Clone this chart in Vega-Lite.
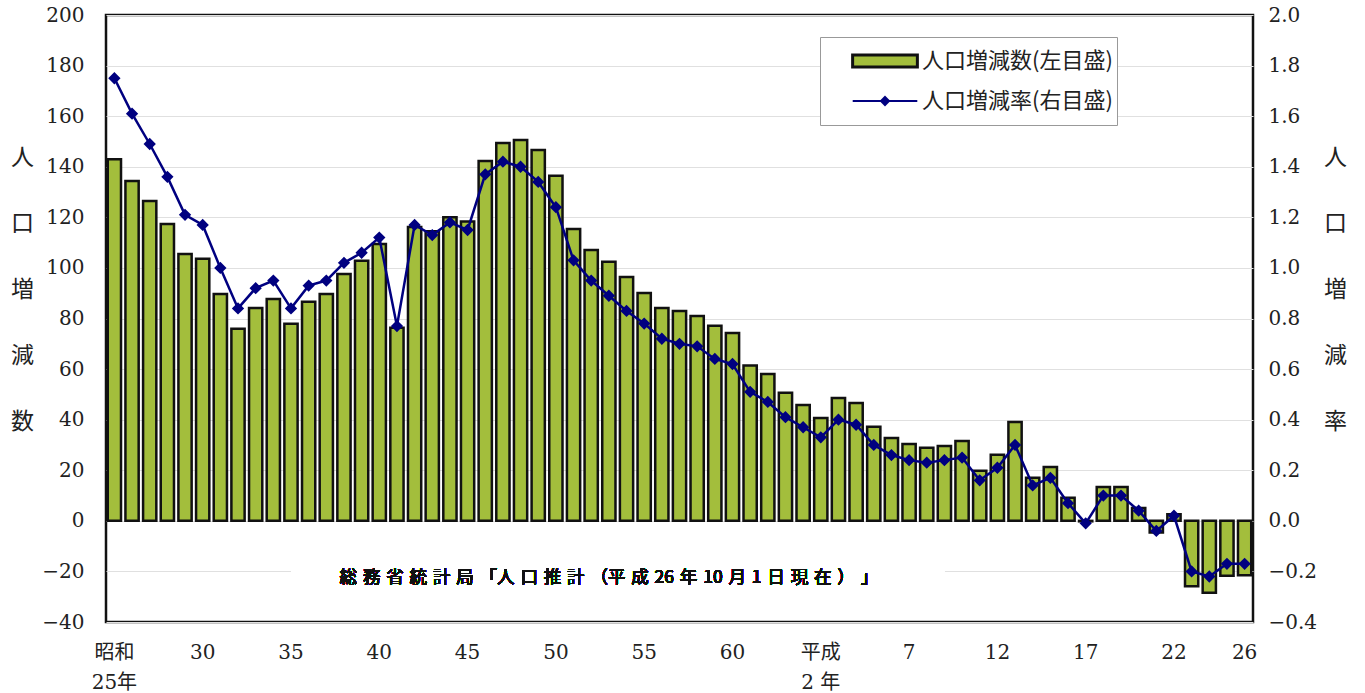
{
  "$schema": "https://vega.github.io/schema/vega-lite/v6.json",
  "width": 1147,
  "height": 607,
  "autosize": {"type": "none"},
  "padding": {"left": 106, "top": 15, "right": 112, "bottom": 71},
  "background": "white",
  "config": {
    "view": {"stroke": "#111", "strokeWidth": 2.5},
    "axis": {
      "labelFont": "DejaVu Serif, Noto Sans CJK JP",
      "labelFontSize": 20,
      "labelColor": "#222",
      "titleFont": "Noto Sans CJK JP",
      "titleFontSize": 23,
      "titleFontWeight": "normal",
      "titleColor": "#222",
      "domain": false,
      "ticks": false
    },
    "legend": {
      "orient": "none",
      "legendX": 714,
      "padding": 4,
      "symbolOffset": 41,
      "labelOffset": 17,
      "labelLimit": 500,
      "rowPadding": 0,
      "labelFont": "Noto Sans CJK JP",
      "labelFontSize": 22,
      "labelColor": "#222"
    }
  },
  "data": {
    "values": [
      {"yr": 1950, "n": 143.0, "r": 1.75},
      {"yr": 1951, "n": 134.4, "r": 1.61},
      {"yr": 1952, "n": 126.5, "r": 1.49},
      {"yr": 1953, "n": 117.4, "r": 1.36},
      {"yr": 1954, "n": 105.5, "r": 1.21},
      {"yr": 1955, "n": 103.6, "r": 1.17},
      {"yr": 1956, "n": 89.7, "r": 1.00},
      {"yr": 1957, "n": 75.9, "r": 0.84},
      {"yr": 1958, "n": 84.2, "r": 0.92},
      {"yr": 1959, "n": 87.7, "r": 0.95},
      {"yr": 1960, "n": 77.9, "r": 0.84},
      {"yr": 1961, "n": 86.6, "r": 0.93},
      {"yr": 1962, "n": 89.7, "r": 0.95},
      {"yr": 1963, "n": 97.6, "r": 1.02},
      {"yr": 1964, "n": 102.8, "r": 1.06},
      {"yr": 1965, "n": 109.5, "r": 1.12},
      {"yr": 1966, "n": 76.3, "r": 0.77},
      {"yr": 1967, "n": 116.2, "r": 1.17},
      {"yr": 1968, "n": 114.5, "r": 1.13},
      {"yr": 1969, "n": 120.0, "r": 1.18},
      {"yr": 1970, "n": 118.4, "r": 1.15},
      {"yr": 1971, "n": 142.3, "r": 1.37},
      {"yr": 1972, "n": 149.4, "r": 1.42},
      {"yr": 1973, "n": 150.6, "r": 1.40},
      {"yr": 1974, "n": 146.6, "r": 1.34},
      {"yr": 1975, "n": 136.4, "r": 1.24},
      {"yr": 1976, "n": 115.4, "r": 1.03},
      {"yr": 1977, "n": 107.1, "r": 0.95},
      {"yr": 1978, "n": 102.4, "r": 0.89},
      {"yr": 1979, "n": 96.4, "r": 0.83},
      {"yr": 1980, "n": 90.1, "r": 0.78},
      {"yr": 1981, "n": 84.2, "r": 0.72},
      {"yr": 1982, "n": 83.0, "r": 0.70},
      {"yr": 1983, "n": 81.0, "r": 0.69},
      {"yr": 1984, "n": 77.1, "r": 0.64},
      {"yr": 1985, "n": 74.3, "r": 0.62},
      {"yr": 1986, "n": 61.4, "r": 0.51},
      {"yr": 1987, "n": 58.1, "r": 0.47},
      {"yr": 1988, "n": 50.6, "r": 0.41},
      {"yr": 1989, "n": 45.8, "r": 0.37},
      {"yr": 1990, "n": 40.7, "r": 0.33},
      {"yr": 1991, "n": 48.6, "r": 0.40},
      {"yr": 1992, "n": 46.6, "r": 0.38},
      {"yr": 1993, "n": 37.2, "r": 0.30},
      {"yr": 1994, "n": 32.8, "r": 0.26},
      {"yr": 1995, "n": 30.4, "r": 0.24},
      {"yr": 1996, "n": 28.9, "r": 0.23},
      {"yr": 1997, "n": 29.6, "r": 0.24},
      {"yr": 1998, "n": 31.6, "r": 0.25},
      {"yr": 1999, "n": 19.8, "r": 0.16},
      {"yr": 2000, "n": 26.1, "r": 0.21},
      {"yr": 2001, "n": 39.1, "r": 0.30},
      {"yr": 2002, "n": 17.0, "r": 0.14},
      {"yr": 2003, "n": 21.3, "r": 0.17},
      {"yr": 2004, "n": 9.1, "r": 0.07},
      {"yr": 2005, "n": -0.2, "r": -0.01},
      {"yr": 2006, "n": 13.4, "r": 0.10},
      {"yr": 2007, "n": 13.4, "r": 0.10},
      {"yr": 2008, "n": 5.1, "r": 0.04},
      {"yr": 2009, "n": -4.6, "r": -0.04},
      {"yr": 2010, "n": 2.6, "r": 0.02},
      {"yr": 2011, "n": -25.9, "r": -0.20},
      {"yr": 2012, "n": -28.4, "r": -0.22},
      {"yr": 2013, "n": -21.7, "r": -0.17},
      {"yr": 2014, "n": -21.5, "r": -0.17}
    ]
  },
  "encoding": {
    "x": {
      "field": "yr",
      "type": "ordinal",
      "scale": {"paddingInner": 0.25, "paddingOuter": 0.1},
      "axis": {
        "title": null,
        "values": [1950, 1955, 1960, 1965, 1970, 1975, 1980, 1985, 1990, 1995, 2000, 2005, 2010, 2014],
        "labelExpr": "datum.value == 1950 ? ['昭和','25年'] : datum.value == 1990 ? ['平成','2 年'] : datum.value < 1990 ? '' + (datum.value - 1925) : '' + (datum.value - 1988)",
        "labelAngle": 0,
        "labelPadding": 20,
        "labelLineHeight": 30,
        "grid": false
      }
    }
  },
  "layer": [
    {
      "encoding": {
        "y": {
          "type": "quantitative",
          "scale": {"domain": [-40, 200], "nice": false, "zero": false},
          "axis": {
            "orient": "left",
            "values": [-40, -20, 0, 20, 40, 60, 80, 100, 120, 140, 160, 180, 200],
            "grid": true,
            "gridColor": "#e0e0e0",
            "gridWidth": 1.2,
            "labelPadding": 22,
            "title": ["人", "口", "増", "減", "数"],
            "titleAngle": 0,
            "titleAlign": "center",
            "titleBaseline": "middle",
            "titleX": -84,
            "titleY": 142,
            "titleLineHeight": 66
          }
        }
      },
      "layer": [
        {
          "mark": {"type": "rect", "fill": "white"},
          "encoding": {
            "x": {"datum": 1960, "type": "ordinal", "bandPosition": 0.5},
            "x2": {"datum": 1997, "bandPosition": 0.5},
            "y": {"datum": -13},
            "y2": {"datum": -32}
          }
        },
        {
          "mark": {"type": "bar", "stroke": "#111", "strokeWidth": 2.5},
          "encoding": {
            "y": {"field": "n"},
            "fill": {
              "datum": "人口増減数(左目盛)",
              "scale": {"range": ["#a3be3c"]},
              "legend": {
                "legendY": 22,
                "title": "\u3000",
                "titleOrient": "bottom",
                "titleFontSize": 20,
                "titlePadding": 28,
                "titleFont": "Noto Sans CJK JP",
                "labelExpr": "datum.label + '\u3000\u3000\u2002'",
                "symbolType": "M-1.75,-0.32H1.75V0.32H-1.75Z",
                "symbolSize": 1369,
                "symbolStrokeColor": "#111",
                "symbolStrokeWidth": 3,
                "symbolOpacity": 1,
                "fillColor": "white",
                "strokeColor": "#999"
              }
            }
          }
        },
        {
          "mark": {"type": "text", "font": "Noto Sans CJK JP", "fontSize": 17.5, "fontWeight": "normal", "color": "#111", "baseline": "middle", "align": "center"},
          "encoding": {
            "x": {"datum": 1978, "type": "ordinal"},
            "y": {"datum": -22.5},
            "text": {"value": "総\u2004務\u2004省\u2004統\u2004計\u2004局\u2004「人\u2004口\u2004推\u2004計\u2004（平\u2004成\u200426\u2004年\u200410\u2004月\u20041\u2004日\u2004現\u2004在\u2004）\u2004」"}
          }
        }
      ]
    },
    {
      "mark": {"type": "line", "strokeWidth": 2.5, "point": {"filled": true, "shape": "diamond", "size": 90, "fill": "#000080"}},
      "encoding": {
        "y": {
          "field": "r",
          "type": "quantitative",
          "scale": {"domain": [-0.4, 2.0], "nice": false, "zero": false},
          "axis": {
            "orient": "right",
            "values": [-0.4, -0.2, 0, 0.2, 0.4, 0.6, 0.8, 1.0, 1.2, 1.4, 1.6, 1.8, 2.0],
            "format": ".1f",
            "grid": false,
            "labelPadding": 15,
            "title": ["人", "口", "増", "減", "率"],
            "titleAngle": 0,
            "titleAlign": "center",
            "titleBaseline": "middle",
            "titleX": 82,
            "titleY": 142,
            "titleLineHeight": 66
          }
        },
        "stroke": {
          "datum": "人口増減率(右目盛)",
          "scale": {"range": ["#000080"]},
          "legend": {
            "legendY": 62,
            "title": null,
            "symbolType": "M-1.7,0H1.7M0,-0.21L0.21,0L0,0.21L-0.21,0Z",
            "symbolSize": 1444,
            "symbolStrokeWidth": 2,
            "symbolFillColor": "#000080",
            "symbolOpacity": 1
          }
        }
      }
    }
  ],
  "resolve": {"scale": {"y": "independent"}}
}
